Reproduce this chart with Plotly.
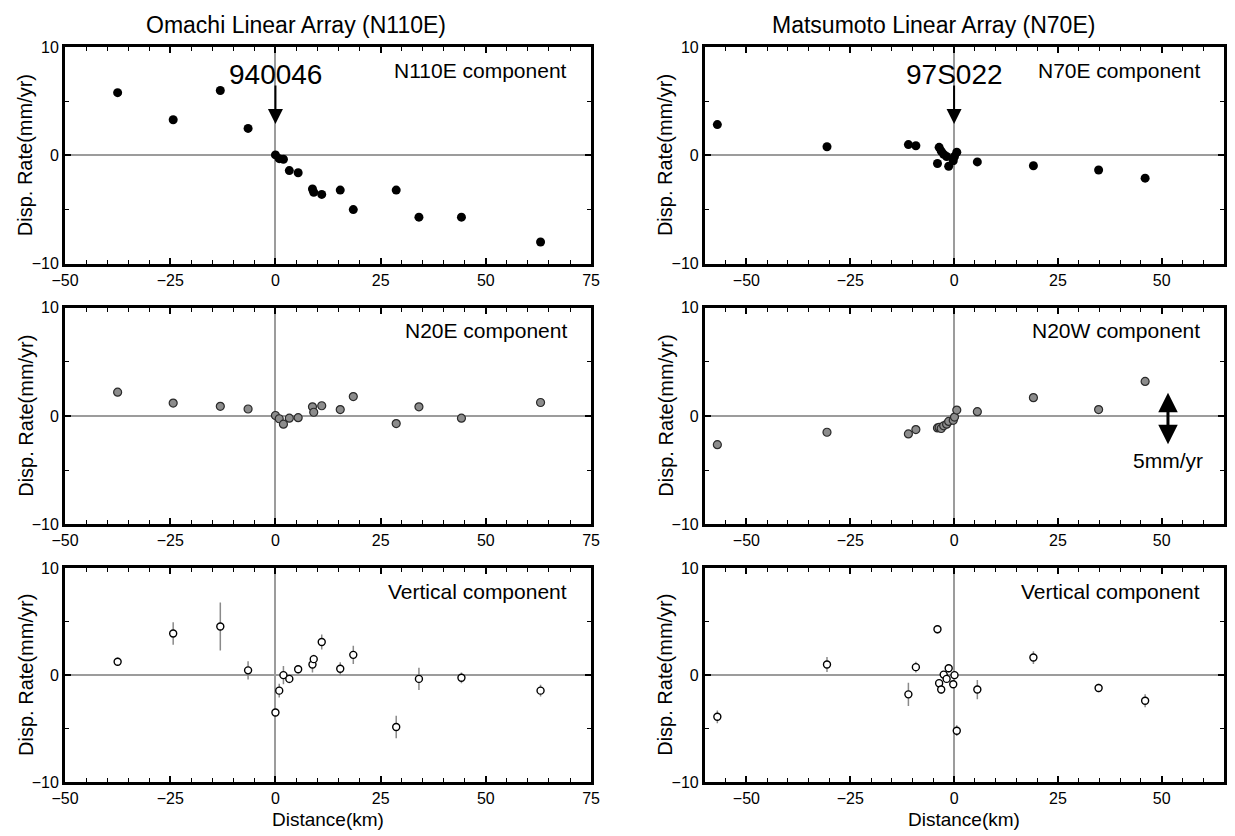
import plotly.graph_objects as go

# ---------------- data ----------------
# Omachi linear array (distance along N110E, km)
om_dist = [-37.5, -24.3, -13.1, -6.5, 0.0, 0.9, 1.9, 3.3, 5.4, 8.8, 9.1, 11.0, 15.4, 18.5, 28.7, 34.1, 44.2, 63.0]
om_n110e = [5.8, 3.3, 6.0, 2.5, 0.05, -0.3, -0.35, -1.4, -1.6, -3.1, -3.4, -3.6, -3.2, -5.0, -3.2, -5.7, -5.7, -8.0]
om_n20e = [2.2, 1.2, 0.9, 0.65, 0.05, -0.25, -0.75, -0.2, -0.15, 0.85, 0.35, 0.95, 0.6, 1.8, -0.7, 0.85, -0.2, 1.25]
om_up = [1.25, 3.9, 4.55, 0.45, -3.5, -1.45, 0.0, -0.35, 0.55, 1.0, 1.5, 3.1, 0.6, 1.9, -4.85, -0.35, -0.25, -1.45]
om_up_err = [0.4, 1.05, 2.25, 0.85, 0.4, 0.65, 0.85, 0.4, 0.4, 0.75, 0.4, 0.7, 0.6, 0.85, 1.05, 1.05, 0.5, 0.55]

# Matsumoto linear array (distance along N70E, km)
mt_dist = [-57.0, -30.6, -11.0, -9.2, -4.0, -3.6, -3.1, -2.5, -1.8, -1.3, -0.2, 0.1, 0.65, 5.6, 19.1, 34.8, 46.0]
mt_n70e = [2.85, 0.8, 1.0, 0.9, -0.75, 0.75, 0.4, 0.1, -0.1, -1.0, -0.5, -0.1, 0.3, -0.6, -0.95, -1.35, -2.1]
mt_n20w = [-2.65, -1.5, -1.65, -1.25, -1.1, -1.05, -1.15, -0.9, -0.75, -0.5, -0.4, -0.1, 0.55, 0.4, 1.7, 0.6, 3.2]
mt_up = [-3.9, 1.0, -1.8, 0.75, 4.3, -0.75, -1.35, 0.05, -0.35, 0.65, -0.85, 0.0, -5.2, -1.35, 1.65, -1.2, -2.4]
mt_up_err = [0.6, 0.7, 1.1, 0.5, 0.4, 0.4, 0.4, 0.3, 0.3, 0.4, 0.3, 0.4, 0.5, 0.9, 0.6, 0.4, 0.6]

titles = ["Omachi Linear Array (N110E)", "Matsumoto Linear Array (N70E)"]
component_labels = ["N110E component", "N70E component", "N20E component",
                    "N20W component", "Vertical component", "Vertical component"]
ref_stations = ["940046", "97S022"]
x_ranges = [[-50, 75], [-60, 65]]
y_range = [-10, 10]

# ---------------- layout geometry ----------------
W, H = 1235, 836
FONT = "Liberation Sans, Arial, Helvetica, sans-serif"
col_px = [(52, 588), (704, 1233)]
row_px = [(40, 261), (306, 527), (572, 790)]

def xdom(c):
    return [col_px[c][0] / W, col_px[c][1] / W]

def ydom(r):
    return [1 - row_px[r][1] / H, 1 - row_px[r][0] / H]

fig = go.Figure()

black_marker = dict(color="black", size=9, line=dict(color="black", width=0))
grey_marker = dict(color="#8c8c8c", size=8, line=dict(color="#2a2a2a", width=1.2))
open_marker = dict(color="white", size=7, line=dict(color="black", width=1.4))
err_style = dict(color="#8a8a8a", thickness=1.5, width=0)

series = [
    (om_dist, om_n110e, None, black_marker),
    (mt_dist, mt_n70e, None, black_marker),
    (om_dist, om_n20e, None, grey_marker),
    (mt_dist, mt_n20w, None, grey_marker),
    (om_dist, om_up, om_up_err, open_marker),
    (mt_dist, mt_up, mt_up_err, open_marker),
]

for i, (xs, ys, es, mk) in enumerate(series):
    idx = i + 1
    sfx = "" if idx == 1 else str(idx)
    tr = go.Scatter(x=xs, y=ys, mode="markers", marker=mk,
                    xaxis="x" + sfx, yaxis="y" + sfx, showlegend=False,
                    cliponaxis=False)
    if es is not None:
        tr.error_y = dict(type="data", array=es, visible=True, **err_style)
    fig.add_trace(tr)

layout = dict(width=W, height=H, margin=dict(l=0, r=0, t=0, b=0),
              paper_bgcolor="white", plot_bgcolor="white",
              font=dict(family=FONT, color="black"), showlegend=False)

annotations = []
for i in range(6):
    idx = i + 1
    r, c = i // 2, i % 2
    sfx = "" if idx == 1 else str(idx)
    common = dict(ticks="inside", ticklen=6, tickwidth=1.5, tickcolor="black",
                  showline=True, linewidth=3, linecolor="black", mirror="allticks",
                  showgrid=False, zeroline=True, zerolinecolor="#9c9c9c", zerolinewidth=1.5,
                  tickfont=dict(size=16, family=FONT, color="black"), fixedrange=True)
    layout["xaxis" + sfx] = dict(
        domain=xdom(c), anchor="y" + sfx, range=x_ranges[c], tick0=0, dtick=25,
        minor=dict(dtick=5, ticks="inside", ticklen=4, tickwidth=1, tickcolor="black"),
        ticklabelstandoff=0, **common)
    layout["yaxis" + sfx] = dict(
        domain=ydom(r), anchor="x" + sfx, range=y_range, tick0=0, dtick=10,
        minor=dict(dtick=5, ticks="inside", ticklen=4, tickwidth=1, tickcolor="black"),
        **common)

    # component label
    annotations.append(dict(text=component_labels[i], xref="x%s domain" % sfx, yref="y%s domain" % sfx,
                            x=0.958, y=0.894, xanchor="right", yanchor="middle", showarrow=False,
                            font=dict(size=21, family=FONT, color="black")))
    # y-axis title
    ycen = 1 - (row_px[r][0] + row_px[r][1]) / 2 / H
    ytx = (col_px[c][0] - 40) / W
    annotations.append(dict(text="Disp. Rate(mm/yr)", xref="paper", yref="paper", x=ytx, y=ycen,
                            textangle=-90, showarrow=False, xanchor="center", yanchor="middle",
                            font=dict(size=20, family=FONT, color="black")))

# column titles and x-axis titles
for c in range(2):
    x0, x1 = col_px[c]
    annotations.append(dict(text=titles[c], xref="paper", yref="paper", x=(x0 + 0.44 * (x1 - x0)) / W,
                            y=1 - 17 / H, showarrow=False, xanchor="center", yanchor="middle",
                            font=dict(size=23, family=FONT, color="black")))
    annotations.append(dict(text="Distance(km)", xref="paper", yref="paper",
                            x=(x0 + x1) / 2 / W, y=1 - 828 / H,
                            showarrow=False, xanchor="center", yanchor="middle",
                            font=dict(size=19, family=FONT, color="black")))

# reference station arrows (top row)
for c in range(2):
    sfx = "" if c == 0 else "2"
    annotations.append(dict(text=ref_stations[c], xref="x" + sfx, yref="y" + sfx, x=0, y=7.45,
                            showarrow=False, xanchor="center", yanchor="middle",
                            font=dict(size=28, family=FONT, color="black")))
    annotations.append(dict(text="", xref="x" + sfx, yref="y" + sfx, x=0, y=2.9,
                            axref="x" + sfx, ayref="y" + sfx, ax=0, ay=6.6,
                            showarrow=True, arrowhead=2, arrowsize=1.5, arrowwidth=2,
                            arrowcolor="black"))

# 5 mm/yr scale arrow (middle right)
annotations.append(dict(text="", xref="x4", yref="y4", x=51.5, y=-2.6, axref="x4", ayref="y4",
                        ax=51.5, ay=2.3, showarrow=True, arrowhead=2, arrowside="end+start",
                        arrowsize=1.3, arrowwidth=3, arrowcolor="black"))
annotations.append(dict(text="5mm/yr", xref="x4", yref="y4", x=51.5, y=-4.1, showarrow=False,
                        xanchor="center", yanchor="middle",
                        font=dict(size=21, family=FONT, color="black")))

layout["annotations"] = annotations
fig.update_layout(**layout)
fig.write_html("out.html", config={"displayModeBar": False},
               post_script="document.body.style.margin='0px';")
